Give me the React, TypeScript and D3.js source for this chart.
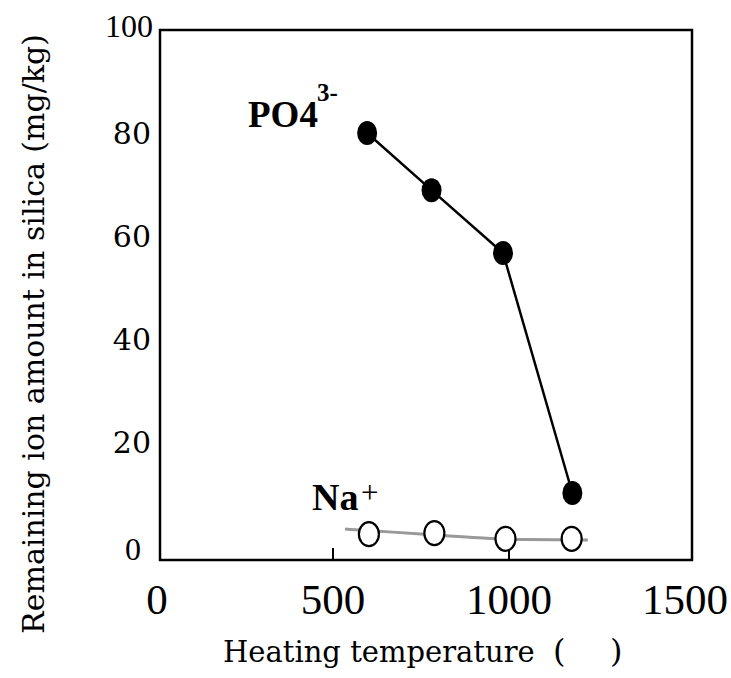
import React from "react";
import * as d3 from "d3";

// Axis ticks
const xTicks = [0, 500, 1000, 1500];
const xInnerTicks = [500, 1000];
const yTicks = [0, 20, 40, 60, 80, 100];

// PO4(3-) remaining amount (mg/kg) vs heating temperature
const po4Temps = [597, 780, 983, 1180];
const po4Values = [80.0, 68.9, 56.7, 10.1];

// Na+ remaining amount (mg/kg)
const naTemps = [602, 788, 990, 1178];
const naValues = [2.1, 2.3, 1.2, 1.2];

// Na+ trend curve
const naTrendTemps = [534, 577, 670, 832, 926, 1040, 1224];
const naTrendValues = [3.1, 2.9, 2.5, 1.75, 1.35, 1.05, 0.97];

const W = 731;
const H = 678;
const frame = { left: 160, right: 692, top: 30, bottom: 560 };

const serif = "'Liberation Serif', 'Times New Roman', serif";
const book = "'DejaVu Serif', serif";

export default function App() {
  const x = d3.scaleLinear().domain([0, 1500]).range([157, 685]);
  const y = d3.scaleLinear().domain([0, 100]).range([545, 30]);

  const po4 = po4Temps.map((t, i) => [t, po4Values[i]] as [number, number]);
  const na = naTemps.map((t, i) => [t, naValues[i]] as [number, number]);
  const trend = naTrendTemps.map((t, i) => [t, naTrendValues[i]] as [number, number]);

  const line = d3
    .line<[number, number]>()
    .x((d) => x(d[0]))
    .y((d) => y(d[1]));
  const smooth = d3
    .line<[number, number]>()
    .x((d) => x(d[0]))
    .y((d) => y(d[1]))
    .curve(d3.curveMonotoneX);

  const yLabelStyle = (v: number) =>
    v === 0 || v === 100
      ? { fontFamily: serif, fontSize: 32 }
      : { fontFamily: book, fontSize: 30 };
  const yLabelShift: Record<number, [number, number]> = {
    0: [-10, 4],
    100: [2, -4],
  };

  return (
    <svg
      width={W}
      height={H}
      style={{ position: "absolute", left: 0, top: 0, background: "#fff" }}
    >
      {/* plot frame */}
      <rect
        x={frame.left}
        y={frame.top}
        width={frame.right - frame.left}
        height={frame.bottom - frame.top}
        fill="none"
        stroke="#000"
        strokeWidth={2.5}
      />
      {xInnerTicks.map((t) => (
        <line
          key={t}
          x1={x(t)}
          x2={x(t)}
          y1={frame.bottom - 12}
          y2={frame.bottom}
          stroke="#000"
          strokeWidth={2}
        />
      ))}

      {/* y tick labels */}
      {yTicks.map((v) => {
        const [dx, dy] = yLabelShift[v] || [0, 0];
        return (
          <text
            key={v}
            x={151 + dx}
            y={y(v) + dy}
            textAnchor="end"
            dominantBaseline="central"
            {...yLabelStyle(v)}
          >
            {v}
          </text>
        );
      })}

      {/* x tick labels */}
      {xTicks.map((v) => (
        <text
          key={v}
          x={x(v)}
          y={614}
          textAnchor="middle"
          fontFamily={serif}
          fontSize={43}
        >
          {v}
        </text>
      ))}

      {/* axis titles */}
      <text
        transform="translate(44,334) rotate(-90)"
        textAnchor="middle"
        fontFamily={book}
        fontSize={30}
      >
        Remaining ion amount in silica (mg/kg)
      </text>
      <text y={662} fontFamily={book} fontSize={29}>
        <tspan x={223}>Heating temperature</tspan>
        <tspan x={553} fontSize={32}>(</tspan>
        <tspan x={610} fontSize={32}>)</tspan>
      </text>

      {/* Na+ series */}
      <path d={smooth(trend) || ""} fill="none" stroke="#999" strokeWidth={3} />
      {na.map((d, i) => (
        <ellipse
          key={i}
          cx={x(d[0])}
          cy={y(d[1])}
          rx={10}
          ry={12}
          fill="#fff"
          stroke="#000"
          strokeWidth={2.2}
        />
      ))}

      {/* PO4 series */}
      <path d={line(po4) || ""} fill="none" stroke="#000" strokeWidth={2.5} />
      {po4.map((d, i) => (
        <ellipse key={i} cx={x(d[0])} cy={y(d[1])} rx={10} ry={12} fill="#000" />
      ))}

      {/* series labels */}
      <text x={248} y={127} fontFamily={serif} fontSize={37} fontWeight="bold">
        PO4
      </text>
      <text x={317} y={101} fontFamily={serif} fontSize={25} fontWeight="bold">
        3-
      </text>
      <text x={312} y={510} fontFamily={serif} fontSize={38} fontWeight="bold">
        Na
      </text>
      <text x={361} y={503} fontFamily={serif} fontSize={31}>
        +
      </text>
    </svg>
  );
}
